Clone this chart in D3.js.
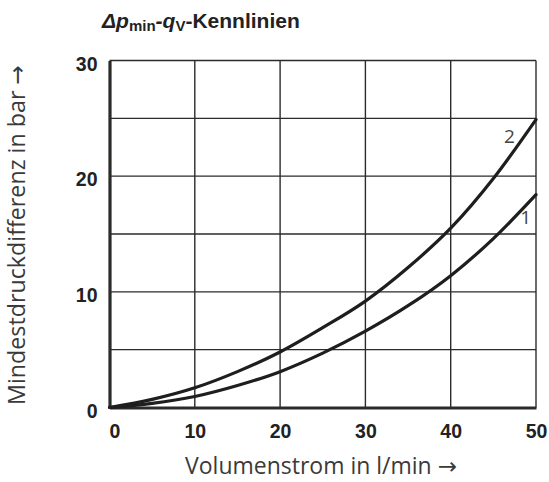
<!DOCTYPE html>
<html><head><meta charset="utf-8">
<script src="https://cdn.jsdelivr.net/npm/d3@7"></script>
<style>body{margin:0;background:#fff}svg{display:block}</style>
</head><body>
<svg id="c" width="549" height="482"></svg>
<script>
const flow = [0, 5, 10, 15, 20, 25, 30, 35, 40, 45, 50];
const curve1 = [0, 0.35, 0.95, 1.9, 3.1, 4.7, 6.6, 8.8, 11.4, 14.6, 18.4];
const curve2 = [0, 0.7, 1.7, 3.1, 4.8, 6.9, 9.2, 12.1, 15.5, 19.8, 24.9];
const xTicks = [0, 10, 20, 30, 40, 50];
const yTicks = [0, 10, 20, 30];
const yGrid = [5, 10, 15, 20, 25, 30];
const curveLabels = ["1", "2"];

const svg = d3.select("#c");
const L = 109.5, R = 536, T = 60.5, B = 407.5;
const x = d3.scaleLinear().domain([0, 50]).range([L, R]);
const y = d3.scaleLinear().domain([0, 30]).range([B, T]);
const ink = "#2b2b2b";

// grid
const g = svg.append("g");
g.selectAll(".vg").data(xTicks.slice(1)).join("line")
  .attr("x1", d => x(d)).attr("x2", d => x(d)).attr("y1", T).attr("y2", B)
  .attr("stroke", ink).attr("stroke-width", 1.4);
g.selectAll(".hg").data(yGrid).join("line")
  .attr("y1", d => y(d)).attr("y2", d => y(d)).attr("x1", L).attr("x2", R)
  .attr("stroke", ink).attr("stroke-width", 1.4);

// axes (thick)
const xAxis = svg.append("g").attr("transform", `translate(0,${B})`)
  .call(d3.axisBottom(x).tickValues(xTicks).tickSize(0).tickPadding(12).tickFormat(d3.format("d")));
const yAxis = svg.append("g").attr("transform", `translate(${L},0)`)
  .call(d3.axisLeft(y).tickValues(yTicks).tickSize(0).tickPadding(12).tickFormat(d3.format("d")));
[xAxis, yAxis].forEach(a => {
  a.select(".domain").attr("stroke", ink).attr("stroke-width", 3.2);
  a.selectAll("text").attr("fill", "#222").attr("font-family", "Liberation Sans, Arial, sans-serif")
    .attr("font-weight", "bold").attr("font-size", 19.5);
});
xAxis.selectAll(".tick text").attr("dy", "0.95em");
xAxis.selectAll(".tick").filter(d => d === 0).select("text").attr("dx", 5);
yAxis.selectAll(".tick text").attr("dy", "0.5em");

// curves
const line = d3.line().x((d, i) => x(flow[i])).y(d => y(d)).curve(d3.curveMonotoneX);
[curve1, curve2].forEach(c => {
  svg.append("path").attr("d", line(c)).attr("fill", "none")
    .attr("stroke", "#1e1e1e").attr("stroke-width", 3.2).attr("stroke-linecap", "round");
});

// curve labels
const lab = svg.append("g").attr("font-family", "Open Sans, sans-serif").attr("font-size", 19).attr("fill", "#444");
lab.append("text").attr("x", x(46.9)).attr("y", y(22.9)).attr("text-anchor", "middle").text(curveLabels[1]);
lab.append("text").attr("x", x(48.8)).attr("y", y(15.9)).attr("text-anchor", "middle").text(curveLabels[0]);

// axis titles
function fit(sel, w) {
  const len = sel.node().getComputedTextLength();
  const fs = parseFloat(sel.attr("font-size"));
  sel.attr("font-size", fs * w / len);
}
function titled(sel, txt) {
  sel.append("tspan").text(txt + " ");
  sel.append("tspan").attr("font-family", "DejaVu Sans, sans-serif").text("→");
}
const xt = svg.append("text").attr("x", 321).attr("y", 474).attr("text-anchor", "middle")
  .attr("font-family", "Open Sans, sans-serif").attr("font-size", 19).attr("fill", "#3a3a3a");
titled(xt, "Volumenstrom in l/min");
fit(xt, 272);
const yt = svg.append("text").attr("transform", "translate(25,235) rotate(-90)").attr("text-anchor", "middle")
  .attr("font-family", "Open Sans, sans-serif").attr("font-size", 19).attr("fill", "#3a3a3a");
titled(yt, "Mindestdruckdifferenz in bar");
fit(yt, 340);

// title
const tt = svg.append("text").attr("x", 102).attr("y", 28)
  .attr("font-family", "Liberation Sans, Arial, sans-serif").attr("font-weight", "bold")
  .attr("font-size", 21).attr("fill", "#222");
tt.append("tspan").attr("font-style", "italic").text("Δp");
tt.append("tspan").attr("font-size", 15).attr("dy", 3).text("min");
tt.append("tspan").attr("dy", -3).attr("font-style", "italic").text("-q");
tt.append("tspan").attr("font-size", 15).attr("dy", 3).text("V");
tt.append("tspan").attr("dy", -3).text("-Kennlinien");
</script>
</body></html>
